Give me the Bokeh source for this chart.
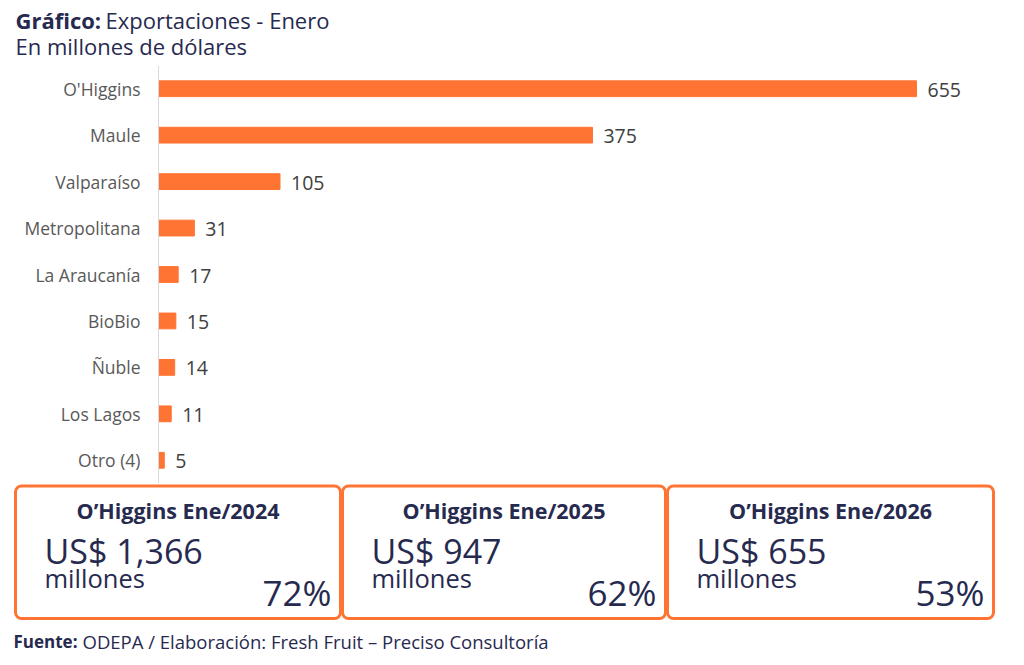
from bokeh.plotting import figure
from bokeh.models import Range1d, ColumnDataSource, LabelSet, Label, BoxAnnotation, FactorRange, Span
from bokeh.layouts import column
from bokeh.embed import file_html
from bokeh.resources import INLINE
from bokeh.core.properties import value

# ---- data ----
regions = ["O'Higgins", "Maule", "Valparaíso", "Metropolitana", "La Araucanía",
           "BioBio", "Ñuble", "Los Lagos", "Otro (4)"]
exports = [655, 375, 105, 31, 17, 15, 14, 11, 5]

box_titles = ["O’Higgins Ene/2024", "O’Higgins Ene/2025", "O’Higgins Ene/2026"]
box_amounts = ["US$ 1,366", "US$ 947", "US$ 655"]
box_unit = "millones"
box_shares = ["72%", "62%", "53%"]

title_bold = "Gráfico:"
title_rest = "Exportaciones - Enero"
subtitle = "En millones de dólares"
source_bold = "Fuente:"
source_rest = "ODEPA / Elaboración: Fresh Fruit – Preciso Consultoría"

FONT = "Open Sans"
NAVY = "#272a4f"
ORANGE = "#FF7433"
W = 1008


def blank(height, y_top):
    f = figure(width=W, height=height, output_backend="svg", toolbar_location=None,
               x_range=Range1d(0, W), y_range=Range1d(y_top + height, y_top),
               min_border=0)
    f.axis.visible = False
    f.grid.visible = False
    f.outline_line_color = None
    return f


# ---- header (y 0..65) ----
hdr = blank(65, 0)
hdr.add_layout(Label(x=15, y=19, text=title_bold, text_font=FONT, text_font_style="bold",
                     text_font_size="22px", text_color=NAVY, text_baseline="middle"))
hdr.add_layout(Label(x=105, y=19, text=title_rest, text_font=FONT,
                     text_font_size="22px", text_color=NAVY, text_baseline="middle"))
hdr.add_layout(Label(x=15, y=45, text=subtitle, text_font=FONT,
                     text_font_size="22px", text_color=NAVY, text_baseline="middle"))

# ---- bar chart (y 65..483) ----
ppu = (916 - 158) / 655.0          # pixels per million
axis_x = 158                       # pixel of the zero line
src = ColumnDataSource(dict(region=regions, val=exports, lab=[str(v) for v in exports],
                            zero=[0] * len(regions)))
p = figure(width=W, height=418, output_backend="svg", toolbar_location=None,
           y_range=FactorRange(*regions[::-1]),
           x_range=Range1d(-axis_x / ppu, (W - axis_x) / ppu),
           min_border=0)
p.axis.visible = False
p.grid.visible = False
p.outline_line_color = None
p.add_layout(Span(location=0, dimension="height", line_color="#d9d9d9", line_width=1))
p.hbar(y="region", right="val", left=0, height=0.34, color=ORANGE, source=src)
p.add_layout(LabelSet(x="val", y="region", text="lab", source=src, x_offset=11, y_offset=-1,
                      text_baseline="middle", text_font=value(FONT), text_font_size="19.5px",
                      text_color="#404040"))
p.add_layout(LabelSet(x="zero", y="region", text="region", source=src, x_offset=-18,
                      text_align="right", text_baseline="middle", text_font=value(FONT),
                      text_font_size="17.5px", text_color="#595959"))

# ---- boxes & footer (y 483..657) ----
b = blank(174, 483)
edges = [15, 341, 666, 993]
for i in range(len(box_titles)):
    l = edges[i] + (1 if i else 0)
    r = edges[i + 1] - (1 if i < 2 else 0)
    b.add_layout(BoxAnnotation(left=l, right=r, top=485.5, bottom=618, fill_alpha=0,
                               line_color=ORANGE, line_alpha=1, line_width=3, border_radius=6))
    cx = (l + r) / 2
    b.add_layout(Label(x=cx, y=510, text=box_titles[i], text_font=FONT, text_font_style="bold",
                       text_font_size="21.5px", text_color=NAVY, text_align="center",
                       text_baseline="middle"))
    b.add_layout(Label(x=l + 29, y=550, text=box_amounts[i], text_font=FONT,
                       text_font_size="34px", text_color=NAVY, text_baseline="middle"))
    b.add_layout(Label(x=l + 29, y=577, text=box_unit, text_font=FONT,
                       text_font_size="25.5px", text_color=NAVY, text_baseline="middle"))
    b.add_layout(Label(x=r - 9, y=592, text=box_shares[i], text_font=FONT,
                       text_font_size="35px", text_color=NAVY, text_align="right",
                       text_baseline="middle"))

b.add_layout(Label(x=13, y=641, text=source_bold, text_font=FONT, text_font_style="bold",
                   text_font_size="17px", text_color=NAVY, text_baseline="middle"))
b.add_layout(Label(x=82, y=641, text=source_rest, text_font=FONT,
                   text_font_size="18.5px", text_color=NAVY, text_baseline="middle"))

layout = column(hdr, p, b, spacing=0)
open("out.html", "w").write(file_html(layout, INLINE))
